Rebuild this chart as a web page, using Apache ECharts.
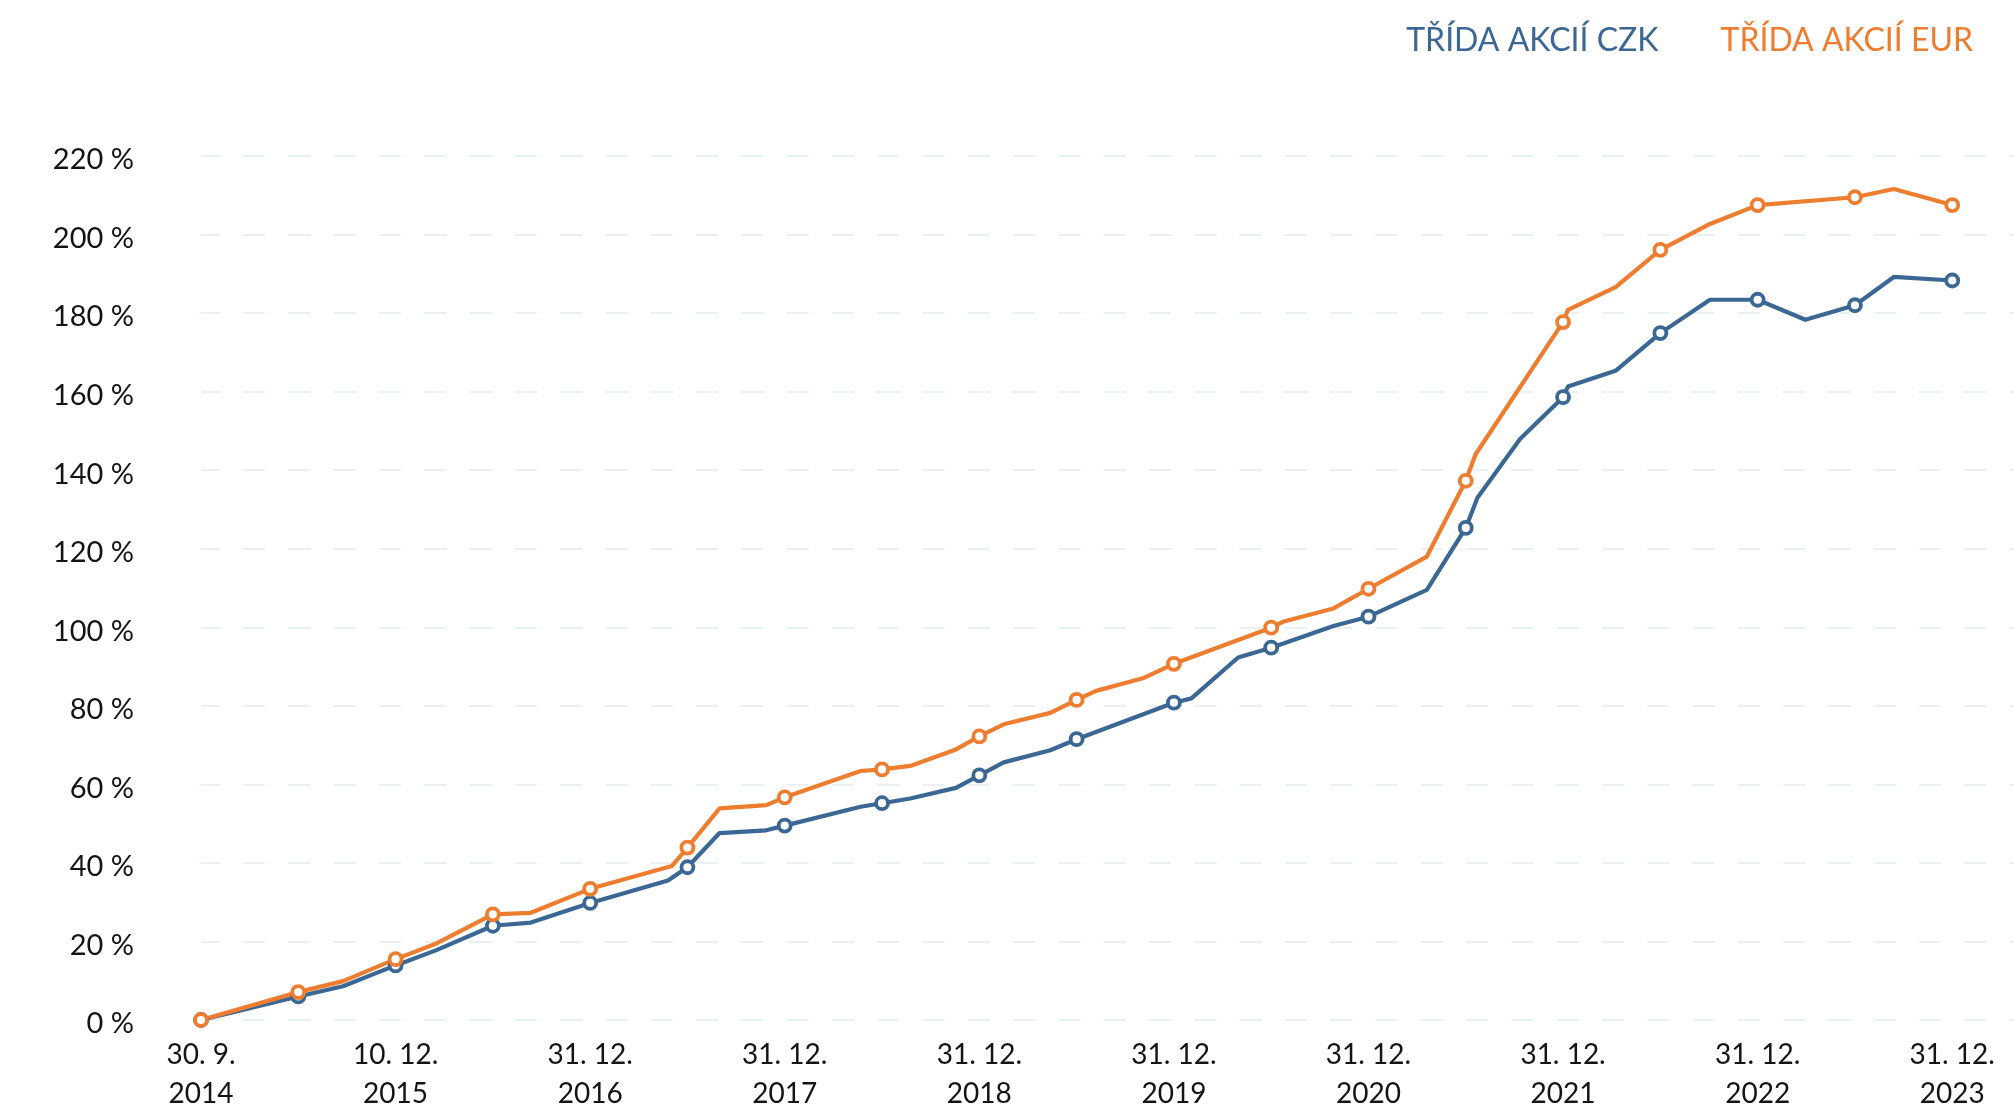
<!DOCTYPE html>
<html>
<head>
<meta charset="utf-8">
<title>Třída akcií CZK / EUR</title>
<script src="https://cdn.jsdelivr.net/npm/echarts@6/dist/echarts.min.js"></script>
<style>
  html, body { margin: 0; padding: 0; background: #fff; }
  #chart { width: 2014px; height: 1105px; }
</style>
</head>
<body>
<div id="chart"></div>
<script>
// x = position in half-year steps from 30. 9. 2014 (whole numbers carry a marker)
const tickLabels = [
  '30. 9.\n2014', '10. 12.\n2015', '31. 12.\n2016', '31. 12.\n2017', '31. 12.\n2018',
  '31. 12.\n2019', '31. 12.\n2020', '31. 12.\n2021', '31. 12.\n2022', '31. 12.\n2023',
]

const czkPeriods = [
  0, 1, 1.46, 2, 2.42, 3, 3.39, 4, 4.8, 5, 5.33, 5.81, 6, 6.78, 7, 7.29, 7.76, 8, 8.25, 8.73,
  9, 10, 10.18, 10.66, 11, 11.64, 12, 12.6, 13, 13.12, 13.56, 14, 14.05, 14.54, 15, 15.51,
  16, 16.49, 17, 17.4, 18,
]
const czkValues = [
  0, 6.0, 8.6, 13.9, 17.8, 24.0, 24.8, 29.8, 35.5, 38.9, 47.6, 48.3, 49.5, 54.3, 55.2, 56.4, 59.1, 62.3, 65.6, 68.7,
  71.5, 80.8, 81.9, 92.3, 94.8, 100.3, 102.7, 109.5, 125.3, 133.0, 148.0, 158.6, 161.3, 165.3, 174.9, 183.4,
  183.4, 178.3, 182.0, 189.2, 188.3,
]

const eurPeriods = [
  0, 1, 1.46, 2, 2.42, 3, 3.39, 4, 4.84, 5, 5.33, 5.81, 6, 6.78, 7, 7.29, 7.76, 8, 8.25, 8.73,
  9, 9.2, 9.68, 10, 11, 11.12, 11.64, 12, 12.6, 13, 13.1, 14, 14.05, 14.54, 15, 15.51,
  16, 17, 17.4, 18,
]
const eurValues = [
  0, 7.1, 9.9, 15.5, 19.5, 26.9, 27.3, 33.4, 39.2, 43.9, 53.9, 54.7, 56.7, 63.4, 63.8, 64.7, 68.9, 72.2, 75.3, 78.2,
  81.5, 83.8, 87.0, 90.7, 99.9, 101.4, 104.8, 109.8, 118.0, 137.3, 144.0, 177.7, 180.8, 186.6, 196.1, 202.7,
  207.5, 209.5, 211.6, 207.5,
]

const seriesNames = ['TŘÍDA AKCIÍ CZK', 'TŘÍDA AKCIÍ EUR']
const seriesColors = ['#3a6794', '#ee7d2f']

const font = 'Lato'

function points(periods, values) {
  return periods.map((p, i) => ({
    value: [p, values[i]],
    symbol: Number.isInteger(p) ? 'circle' : 'none',
  }))
}

function lineSeries(name, color, data) {
  return {
    name,
    type: 'line',
    data,
    showAllSymbol: true,
    symbolSize: 12,
    lineStyle: { color, width: 4.2 },
    itemStyle: { color: '#fff', borderColor: color, borderWidth: 3.8 },
    emphasis: { disabled: true },
  }
}

const chart = echarts.init(document.getElementById('chart'))
chart.setOption({
  animation: false,
  backgroundColor: '#fff',
  textStyle: { fontFamily: font },
  grid: { left: 201, right: 0, top: 156, bottom: 85, outerBoundsMode: 'none', containLabel: false },
  legend: {
    right: 36,
    top: 20,
    icon: 'none',
    itemWidth: 0,
    itemGap: 57,
    selectedMode: false,
    data: seriesNames.map((name, i) => ({
      name,
      textStyle: { color: seriesColors[i], fontSize: 32, fontFamily: font, lineHeight: 32 },
    })),
  },
  xAxis: {
    type: 'value',
    min: 0,
    max: 18.635,
    interval: 2,
    axisLine: { show: false },
    axisTick: { show: false },
    splitLine: { show: false },
    axisLabel: {
      color: '#141414',
      fontSize: 28,
      lineHeight: 39,
      margin: 15,
      fontFamily: font,
      showMaxLabel: false,
      formatter: (v) => (Number.isInteger(v) && v % 2 === 0 && v / 2 < tickLabels.length ? tickLabels[v / 2] : ''),
    },
  },
  yAxis: {
    type: 'value',
    min: 0,
    max: 220,
    interval: 20,
    axisLine: { show: false },
    axisTick: { show: false },
    axisLabel: {
      color: '#141414',
      fontSize: 29,
      margin: 67,
      verticalAlign: 'top',
      lineHeight: 8,
      fontFamily: font,
      formatter: '{value} %',
    },
    splitLine: {
      lineStyle: { color: '#ebf1f0', width: 2, type: [22.3, 23], dashOffset: 3.4 },
    },
  },
  series: [
    lineSeries(seriesNames[0], seriesColors[0], points(czkPeriods, czkValues)),
    lineSeries(seriesNames[1], seriesColors[1], points(eurPeriods, eurValues)),
  ],
})

window.addEventListener('resize', () => chart.resize())
</script>
</body>
</html>
